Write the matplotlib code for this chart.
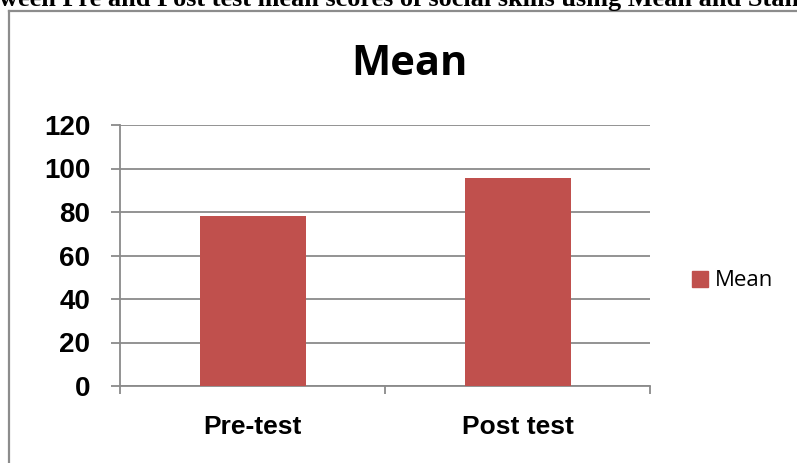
import matplotlib.pyplot as plt
from matplotlib.lines import Line2D
from matplotlib.patches import Patch

# Data
categories = ['Pre-test', 'Post test']
mean_scores = [78, 95.5]
y_ticks = [0, 20, 40, 60, 80, 100, 120]
heading = 'ween Pre and Post test mean scores of social skills using Mean and Stan'

W, H = 797, 463
fig = plt.figure(figsize=(W / 100, H / 100), dpi=100)

# cropped heading from the page above the chart
fig.text(-1 / W, 1 - 6 / H, heading, family='Liberation Serif', weight='bold',
         fontsize=18.9, va='baseline', ha='left')

# chart frame (only left and top edges visible)
frame_col = '#8c8c8c'
fig.add_artist(Line2D([9 / W, 9 / W], [0, 1 - 11 / H], color=frame_col, lw=1.6,
                      transform=fig.transFigure))
fig.add_artist(Line2D([9 / W, 1], [1 - 11 / H, 1 - 11 / H], color=frame_col, lw=1.6,
                      transform=fig.transFigure))

ax = fig.add_axes([120 / W, (H - 386) / H, 530 / W, 261 / H])

pos = [i + 0.5 for i in range(len(categories))]
ax.bar(pos, mean_scores, width=0.4, color='#C0504D', zorder=3, label='Mean')

grid_col = '#8a8a8a'
ax.set_xlim(0, len(categories))
ax.set_ylim(0, 120)
ax.set_yticks(y_ticks)
ax.yaxis.grid(True, color=grid_col, lw=1.3, zorder=0)
for s in ['top', 'right']:
    ax.spines[s].set_visible(False)
for s in ['left', 'bottom']:
    ax.spines[s].set_color(grid_col)
    ax.spines[s].set_linewidth(1.3)

ax.tick_params(axis='y', length=6.5, width=1.3, color=grid_col, pad=15,
               labelsize=20)
for lbl in ax.get_yticklabels():
    lbl.set_family('Liberation Sans')
    lbl.set_weight('bold')

ax.set_xticks(range(len(categories) + 1))
ax.set_xticklabels([])
ax.tick_params(axis='x', which='major', length=6, width=1.3, color=grid_col)
ax.set_xticks(pos, minor=True)
ax.set_xticklabels(categories, minor=True, family='Liberation Sans',
                   weight='bold', fontsize=19)
ax.tick_params(axis='x', which='minor', length=0, pad=21)

fig.text(409 / W, 1 - 75 / H, 'Mean', family='Open Sans', weight='bold',
         fontsize=30, ha='center', va='baseline')

fig.legend(handles=[Patch(color='#C0504D', label='Mean')],
           loc='center left', bbox_to_anchor=(692 / W, 1 - 281 / H),
           frameon=False, borderpad=0, borderaxespad=0, handlelength=0.7,
           handleheight=0.7, handletextpad=0.35,
           prop={'family': 'Open Sans', 'size': 16})

fig.savefig('out.png', dpi=100)
